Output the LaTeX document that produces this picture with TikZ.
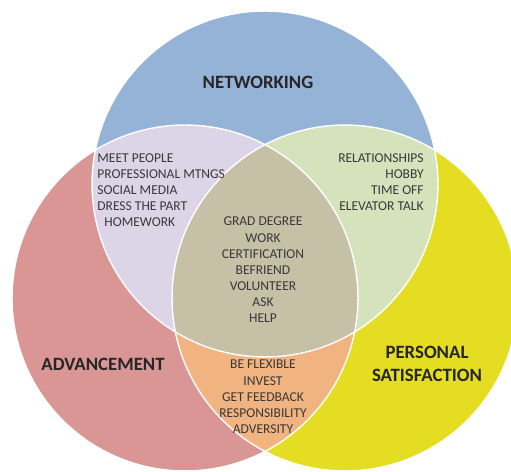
\documentclass[tikz,border=0pt]{standalone}
\usepackage{fontspec}
\setmainfont{Carlito}
\usetikzlibrary{positioning}

\definecolor{netblue}{RGB}{149,179,215}
\definecolor{advpink}{RGB}{217,150,148}
\definecolor{satyellow}{RGB}{228,221,34}
\definecolor{lavender}{RGB}{220,213,231}
\definecolor{mint}{RGB}{213,227,188}
\definecolor{peach}{RGB}{241,180,128}
\definecolor{tan}{RGB}{197,192,166}

\begin{document}
\begin{tikzpicture}
  [
    x=0.02cm, y=-0.02cm,
    title/.style = {font=\fontsize{10.7}{13}\selectfont\bfseries, text=black!85, align=center, inner sep=0pt},
    list/.style  = {font=\fontsize{7.7}{9.2}\selectfont, text=black!78, inner sep=0pt},
    rim/.style   = {draw=white, line width=0.8pt},
  ]

  \def\rad{3.46cm}
  \useasboundingbox (0,0) rectangle (511,472);

  % the circles
  \coordinate (net) at (265,184);
  \coordinate (adv) at (185,298);
  \coordinate (sat) at (345,298);

  \fill[netblue]   (net) circle [radius=\rad];
  \fill[advpink]   (adv) circle [radius=\rad];
  \fill[satyellow] (sat) circle [radius=\rad];

  % overlaps of two
  \begin{scope}
    \clip (net) circle [radius=\rad];
    \fill[lavender] (adv) circle [radius=\rad];
    \fill[mint]     (sat) circle [radius=\rad];
  \end{scope}
  \begin{scope}
    \clip (adv) circle [radius=\rad];
    \fill[peach] (sat) circle [radius=\rad];
  \end{scope}

  % overlap of all three
  \begin{scope}
    \clip (net) circle [radius=\rad];
    \clip (adv) circle [radius=\rad];
    \fill[tan] (sat) circle [radius=\rad];
  \end{scope}

  \draw[rim] (net) circle [radius=\rad];
  \draw[rim] (adv) circle [radius=\rad];
  \draw[rim] (sat) circle [radius=\rad];

  % titles
  \node (networking)  at (258,82)  [title] {NETWORKING};
  \node (advancement) at (103,364) [title] {ADVANCEMENT};
  \node (satisfaction) at (427,364) [title] {PERSONAL\\SATISFACTION};

  % lists
  \node (netadv) at (97,190) [list, anchor=west, align=left]
    {MEET PEOPLE\\PROFESSIONAL MTNGS\\SOCIAL MEDIA\\DRESS THE PART\\\hspace{4pt}HOMEWORK};
  \node (netsat) at (424,182) [list, anchor=east, align=right]
    {RELATIONSHIPS\\HOBBY\\TIME OFF\\ELEVATOR TALK};
  \node (all) at (263,270) [list, align=center]
    {GRAD DEGREE\\WORK\\CERTIFICATION\\BEFRIEND\\VOLUNTEER\\ASK\\HELP};
  \node (advsat) at (263,397) [list, align=center]
    {BE FLEXIBLE\\INVEST\\GET FEEDBACK\\RESPONSIBILITY\\ADVERSITY};

\end{tikzpicture}
\end{document}
